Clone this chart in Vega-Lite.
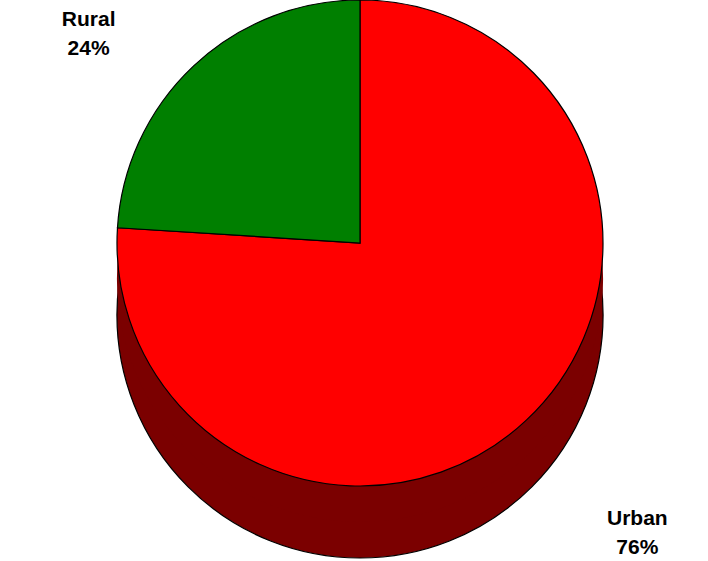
{
  "$schema": "https://vega.github.io/schema/vega-lite/v6.json",
  "autosize": {"type": "none"},
  "width": 696,
  "height": 486,
  "padding": {"left": 12, "top": 0, "right": 0, "bottom": 75},
  "background": "white",
  "config": {"view": {"stroke": null}},
  "data": {
    "values": [
      {"category": "Urban", "value": 76},
      {"category": "Rural", "value": 24}
    ]
  },
  "layer": [
    {
      "transform": [{"aggregate": [{"op": "sum", "field": "value", "as": "total"}]}],
      "mark": {"type": "arc", "yOffset": 72, "fill": "#7b0000", "stroke": "black", "strokeWidth": 1.2},
      "encoding": {"theta": {"field": "total", "type": "quantitative"}}
    },
    {
      "transform": [{"aggregate": [{"op": "sum", "field": "value", "as": "total"}]}],
      "mark": {"type": "arc", "yOffset": 36, "fill": "#7b0000", "strokeWidth": 0},
      "encoding": {"theta": {"field": "total", "type": "quantitative"}}
    },
    {
      "mark": {"type": "arc", "stroke": "black", "strokeWidth": 1.2},
      "encoding": {
        "theta": {"field": "value", "type": "quantitative", "stack": true},
        "order": {"field": "value", "sort": "descending"},
        "color": {
          "field": "category",
          "type": "nominal",
          "scale": {"domain": ["Urban", "Rural"], "range": ["#ff0000", "#007f00"]},
          "legend": null
        }
      }
    },
    {
      "transform": [
        {"stack": "value", "groupby": [], "sort": [{"field": "value", "order": "descending"}], "as": ["start", "end"]},
        {"calculate": "(datum.start + datum.end) / 2", "as": "mid"},
        {"calculate": "[datum.category, datum.value + '%']", "as": "label"},
        {"filter": "datum.category === 'Rural'"}
      ],
      "mark": {"type": "text", "radius": 300, "dx": -66, "dy": -4, "font": "Liberation Sans", "fontWeight": "bold", "fontSize": 21, "lineHeight": 29, "align": "center", "baseline": "middle", "color": "black"},
      "encoding": {
        "theta": {"field": "mid", "type": "quantitative", "stack": null, "scale": {"domain": [0, 100]}},
        "text": {"field": "label"}
      }
    },
    {
      "transform": [
        {"stack": "value", "groupby": [], "sort": [{"field": "value", "order": "descending"}], "as": ["start", "end"]},
        {"calculate": "(datum.start + datum.end) / 2", "as": "mid"},
        {"calculate": "[datum.category, datum.value + '%']", "as": "label"},
        {"filter": "datum.category === 'Urban'"}
      ],
      "mark": {"type": "text", "radius": 300, "dx": 72, "dy": 57, "font": "Liberation Sans", "fontWeight": "bold", "fontSize": 21, "lineHeight": 29, "align": "center", "baseline": "middle", "color": "black"},
      "encoding": {
        "theta": {"field": "mid", "type": "quantitative", "stack": null, "scale": {"domain": [0, 100]}},
        "text": {"field": "label"}
      }
    }
  ]
}
